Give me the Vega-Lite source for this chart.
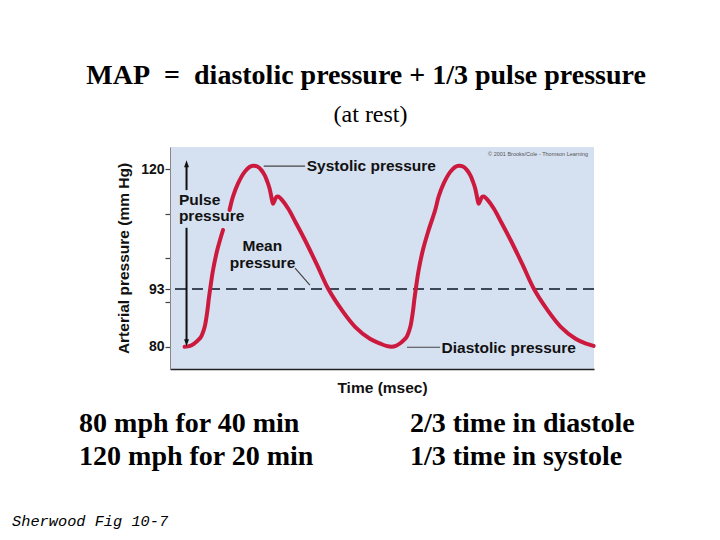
{
  "$schema": "https://vega.github.io/schema/vega-lite/v6.json",
  "width": 424,
  "height": 222,
  "autosize": {"type": "none"},
  "padding": {"left": 170, "top": 147, "right": 126, "bottom": 171},
  "background": "white",
  "config": {"view": {"fill": "#d5e0f0", "stroke": null}},
  "datasets": {
    "mean": [{"p": 93}],
    "curve": [
      {"t": 69, "p": 80.0, "seg": "a"}, {"t": 95, "p": 80.2, "seg": "a"}, {"t": 116, "p": 80.8, "seg": "a"},
      {"t": 135, "p": 81.6, "seg": "a"}, {"t": 148, "p": 82.4, "seg": "a"}, {"t": 158, "p": 83.6, "seg": "a"},
      {"t": 166, "p": 85.0, "seg": "a"}, {"t": 176, "p": 88.0, "seg": "a"}, {"t": 183, "p": 90.8, "seg": "a"},
      {"t": 190, "p": 93.2, "seg": "a"}, {"t": 203, "p": 97.3, "seg": "a"}, {"t": 223, "p": 101.8, "seg": "a"},
      {"t": 250, "p": 106.3, "seg": "a"},
      {"t": 281, "p": 110.8, "seg": "b"}, {"t": 297, "p": 113.8, "seg": "b"}, {"t": 321, "p": 116.8, "seg": "b"},
      {"t": 352, "p": 119.4, "seg": "b"}, {"t": 375, "p": 120.5, "seg": "b"}, {"t": 392, "p": 120.8, "seg": "b"},
      {"t": 412, "p": 120.6, "seg": "b"}, {"t": 431, "p": 119.8, "seg": "b"}, {"t": 447, "p": 118.6, "seg": "b"},
      {"t": 459, "p": 117.2, "seg": "b"}, {"t": 470, "p": 115.6, "seg": "b"}, {"t": 478, "p": 113.8, "seg": "b"},
      {"t": 486, "p": 112.2, "seg": "b"}, {"t": 494, "p": 113.0, "seg": "b"}, {"t": 503, "p": 113.8, "seg": "b"},
      {"t": 512, "p": 113.8, "seg": "b"}, {"t": 528, "p": 113.1, "seg": "b"}, {"t": 558, "p": 111.1, "seg": "b"},
      {"t": 593, "p": 108.0, "seg": "b"}, {"t": 637, "p": 104.0, "seg": "b"}, {"t": 693, "p": 98.5, "seg": "b"},
      {"t": 747, "p": 93.0, "seg": "b"}, {"t": 810, "p": 88.3, "seg": "b"}, {"t": 873, "p": 84.5, "seg": "b"},
      {"t": 943, "p": 81.8, "seg": "b"}, {"t": 993, "p": 80.7, "seg": "b"}, {"t": 1020, "p": 80.2, "seg": "b"},
      {"t": 1046, "p": 80.0, "seg": "b"}, {"t": 1065, "p": 80.2, "seg": "b"}, {"t": 1086, "p": 80.8, "seg": "b"},
      {"t": 1105, "p": 81.6, "seg": "b"}, {"t": 1118, "p": 82.4, "seg": "b"}, {"t": 1128, "p": 83.6, "seg": "b"},
      {"t": 1136, "p": 85.0, "seg": "b"}, {"t": 1146, "p": 88.0, "seg": "b"}, {"t": 1153, "p": 90.8, "seg": "b"},
      {"t": 1160, "p": 93.2, "seg": "b"}, {"t": 1173, "p": 97.3, "seg": "b"}, {"t": 1193, "p": 101.8, "seg": "b"},
      {"t": 1220, "p": 106.3, "seg": "b"}, {"t": 1251, "p": 110.8, "seg": "b"}, {"t": 1267, "p": 113.8, "seg": "b"},
      {"t": 1291, "p": 116.8, "seg": "b"}, {"t": 1322, "p": 119.4, "seg": "b"}, {"t": 1345, "p": 120.5, "seg": "b"},
      {"t": 1362, "p": 120.8, "seg": "b"}, {"t": 1382, "p": 120.6, "seg": "b"}, {"t": 1401, "p": 119.8, "seg": "b"},
      {"t": 1417, "p": 118.6, "seg": "b"}, {"t": 1429, "p": 117.2, "seg": "b"}, {"t": 1440, "p": 115.6, "seg": "b"},
      {"t": 1448, "p": 113.8, "seg": "b"}, {"t": 1456, "p": 112.2, "seg": "b"}, {"t": 1464, "p": 113.0, "seg": "b"},
      {"t": 1473, "p": 113.8, "seg": "b"}, {"t": 1482, "p": 113.8, "seg": "b"}, {"t": 1498, "p": 113.1, "seg": "b"},
      {"t": 1528, "p": 111.1, "seg": "b"}, {"t": 1563, "p": 108.0, "seg": "b"}, {"t": 1607, "p": 104.0, "seg": "b"},
      {"t": 1663, "p": 98.5, "seg": "b"}, {"t": 1717, "p": 93.0, "seg": "b"}, {"t": 1780, "p": 88.3, "seg": "b"},
      {"t": 1843, "p": 84.5, "seg": "b"}, {"t": 1913, "p": 81.8, "seg": "b"}, {"t": 1963, "p": 80.7, "seg": "b"},
      {"t": 1998, "p": 80.2, "seg": "b"}
    ],
    "arrow": [{"t": 78, "p": 81.4, "p2": 106.8}, {"t": 78, "p": 115.3, "p2": 120.8}],
    "headUp": [{"t": 78, "p": 121.2}],
    "headDown": [{"t": 78, "p": 80.9}],
    "leaders": [
      {"t": 442, "t2": 637, "p": 120.7, "p2": 120.7},
      {"t": 1118, "t2": 1274, "p": 79.9, "p2": 79.9},
      {"t": 590, "t2": 660, "p": 97.7, "p2": 93.9}
    ],
    "plotLabels": [
      {"t": 645, "p": 120.72, "label": "Systolic pressure"},
      {"t": 42, "p": 112.97, "label": "Pulse"},
      {"t": 42, "p": 109.4, "label": "pressure"},
      {"t": 342, "p": 102.7, "label": "Mean"},
      {"t": 282, "p": 98.9, "label": "pressure"},
      {"t": 1281, "p": 79.75, "label": "Diastolic pressure"}
    ],
    "copyright": [{"t": 1972, "p": 123.4, "label": "© 2001 Brooks/Cole - Thomson Learning"}],
    "title": [{"t": 925, "p": 139.2, "label": "MAP\u00a0 =\u00a0 diastolic pressure + 1/3 pulse pressure"}],
    "subtitle": [{"t": 946, "p": 130.6, "label": "(at rest)"}],
    "notes": [
      {"t": -429, "p": 60.8, "label": "80 mph for 40 min"},
      {"t": -429, "p": 53.4, "label": "120 mph for 20 min"},
      {"t": 1132, "p": 60.8, "label": "2/3 time in diastole"},
      {"t": 1132, "p": 53.4, "label": "1/3 time in systole"}
    ],
    "source": [{"t": -745, "p": 39.6, "label": "Sherwood Fig 10-7"}]
  },
  "layer": [
    {
      "data": {"name": "mean"},
      "mark": {"type": "rule", "color": "#3c4858", "strokeWidth": 2, "strokeDash": [11, 6]},
      "encoding": {"y": {"field": "p", "type": "quantitative"}}
    },
    {
      "data": {"name": "curve"},
      "mark": {"type": "line", "color": "#cc1a3f", "strokeWidth": 4, "interpolate": "catmull-rom", "strokeCap": "round"},
      "encoding": {
        "x": {
          "field": "t", "type": "quantitative",
          "scale": {"domain": [0, 2000], "nice": false, "zero": false},
          "axis": {
            "title": "Time (msec)", "ticks": false, "labels": false, "grid": false,
            "domainColor": "#222", "domainWidth": 1.5, "titlePadding": 11,
            "titleFont": "Liberation Sans", "titleFontWeight": "bold", "titleFontSize": 15.5, "titleColor": "#111"
          }
        },
        "y": {
          "field": "p", "type": "quantitative",
          "scale": {"domain": [75, 125], "nice": false, "zero": false},
          "axis": {
            "title": "Arterial pressure (mm Hg)", "values": [80, 90, 93, 100, 110, 120],
            "labelExpr": "datum.value == 80 || datum.value == 93 || datum.value == 120 ? datum.label : ''",
            "grid": false, "tickSize": 5, "tickColor": "#444", "tickWidth": 1.2,
            "domainColor": "#888", "labelPadding": 1,
            "labelFont": "Liberation Sans", "labelFontWeight": "bold", "labelFontSize": 14, "labelColor": "#111",
            "titleFont": "Liberation Sans", "titleFontWeight": "bold", "titleFontSize": 15.5, "titleColor": "#111",
            "titlePadding": 9
          }
        },
        "detail": {"field": "seg", "type": "nominal"}
      }
    },
    {
      "data": {"name": "arrow"},
      "mark": {"type": "rule", "color": "#111", "strokeWidth": 2},
      "encoding": {
        "x": {"field": "t", "type": "quantitative"},
        "y": {"field": "p", "type": "quantitative"},
        "y2": {"field": "p2"}
      }
    },
    {
      "data": {"name": "headUp"},
      "mark": {"type": "point", "shape": "M0,-1L0.7,1L-0.7,1Z", "filled": true, "color": "#111", "size": 49, "opacity": 1},
      "encoding": {
        "x": {"field": "t", "type": "quantitative"},
        "y": {"field": "p", "type": "quantitative"}
      }
    },
    {
      "data": {"name": "headDown"},
      "mark": {"type": "point", "shape": "M0,1L0.7,-1L-0.7,-1Z", "filled": true, "color": "#111", "size": 49, "opacity": 1},
      "encoding": {
        "x": {"field": "t", "type": "quantitative"},
        "y": {"field": "p", "type": "quantitative"}
      }
    },
    {
      "data": {"name": "leaders"},
      "mark": {"type": "rule", "color": "#444", "strokeWidth": 1.2},
      "encoding": {
        "x": {"field": "t", "type": "quantitative"},
        "x2": {"field": "t2"},
        "y": {"field": "p", "type": "quantitative"},
        "y2": {"field": "p2"}
      }
    },
    {
      "data": {"name": "plotLabels"},
      "mark": {"type": "text", "align": "left", "baseline": "middle", "font": "Liberation Sans", "fontWeight": "bold", "fontSize": 15.5, "color": "#111"},
      "encoding": {
        "x": {"field": "t", "type": "quantitative"},
        "y": {"field": "p", "type": "quantitative"},
        "text": {"field": "label"}
      }
    },
    {
      "data": {"name": "copyright"},
      "mark": {"type": "text", "align": "right", "baseline": "middle", "font": "Liberation Sans", "fontSize": 5.5, "color": "#555"},
      "encoding": {
        "x": {"field": "t", "type": "quantitative"},
        "y": {"field": "p", "type": "quantitative"},
        "text": {"field": "label"}
      }
    },
    {
      "data": {"name": "title"},
      "mark": {"type": "text", "align": "center", "baseline": "alphabetic", "font": "Liberation Serif", "fontWeight": "bold", "fontSize": 28, "color": "#000"},
      "encoding": {
        "x": {"field": "t", "type": "quantitative"},
        "y": {"field": "p", "type": "quantitative"},
        "text": {"field": "label"}
      }
    },
    {
      "data": {"name": "subtitle"},
      "mark": {"type": "text", "align": "center", "baseline": "alphabetic", "font": "Liberation Serif", "fontSize": 24, "color": "#000"},
      "encoding": {
        "x": {"field": "t", "type": "quantitative"},
        "y": {"field": "p", "type": "quantitative"},
        "text": {"field": "label"}
      }
    },
    {
      "data": {"name": "notes"},
      "mark": {"type": "text", "align": "left", "baseline": "alphabetic", "font": "Liberation Serif", "fontWeight": "bold", "fontSize": 28, "color": "#000"},
      "encoding": {
        "x": {"field": "t", "type": "quantitative"},
        "y": {"field": "p", "type": "quantitative"},
        "text": {"field": "label"}
      }
    },
    {
      "data": {"name": "source"},
      "mark": {"type": "text", "align": "left", "baseline": "alphabetic", "font": "Liberation Mono", "fontStyle": "italic", "fontSize": 15.3, "color": "#000"},
      "encoding": {
        "x": {"field": "t", "type": "quantitative"},
        "y": {"field": "p", "type": "quantitative"},
        "text": {"field": "label"}
      }
    }
  ]
}
